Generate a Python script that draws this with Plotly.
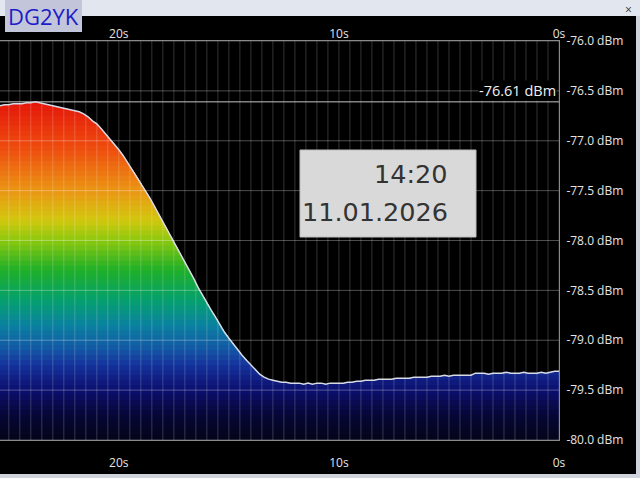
import numpy as np
import plotly.graph_objects as go

# ---------------- data ----------------
level_dbm = [
    -76.65, -76.64, -76.64, -76.63, -76.63, -76.63, -76.62, -76.62, -76.61, -76.62,
    -76.63, -76.64, -76.65, -76.66, -76.67, -76.68, -76.69, -76.70, -76.71, -76.73,
    -76.76, -76.80, -76.83, -76.88, -76.93, -76.98, -77.03, -77.09, -77.15, -77.22,
    -77.28, -77.35, -77.42, -77.50, -77.57, -77.65, -77.73, -77.81, -77.89, -77.97,
    -78.05, -78.13, -78.21, -78.29, -78.38, -78.47, -78.55, -78.62, -78.70, -78.77,
    -78.85, -78.92, -78.98, -79.04, -79.10, -79.15, -79.20, -79.25, -79.30, -79.34,
    -79.37, -79.39, -79.40, -79.41, -79.42, -79.42, -79.43, -79.43, -79.43, -79.44,
    -79.43, -79.44, -79.43, -79.43, -79.44, -79.43, -79.43, -79.43, -79.43, -79.42,
    -79.42, -79.41, -79.41, -79.40, -79.40, -79.40, -79.39, -79.39, -79.39, -79.39,
    -79.38, -79.38, -79.38, -79.38, -79.37, -79.37, -79.37, -79.37, -79.36, -79.36,
    -79.36, -79.35, -79.36, -79.35, -79.35, -79.35, -79.35, -79.35, -79.33, -79.33,
    -79.33, -79.34, -79.33, -79.33, -79.33, -79.32, -79.33, -79.33, -79.33, -79.32,
    -79.33, -79.33, -79.33, -79.32, -79.33, -79.32, -79.31, -79.31,
]
seconds_ago = [round(25.4 - 0.2 * i, 1) for i in range(len(level_dbm))]

marker_level = -76.61
marker_label = "-76.61 dBm"

y_ticks = [-76.0, -76.5, -77.0, -77.5, -78.0, -78.5, -79.0, -79.5, -80.0]
y_tick_labels = ["-76.0 dBm", "-76.5 dBm", "-77.0 dBm", "-77.5 dBm", "-78.0 dBm",
                 "-78.5 dBm", "-79.0 dBm", "-79.5 dBm", "-80.0 dBm"]
x_ticks = [0, 10, 20]
x_tick_labels = ["0s", "10s", "20s"]

timestamp_time = "14:20"
timestamp_date = "11.01.2026"
station = "DG2YK"

# ---------------- styling ----------------
color_stops = [
    (-80.00, (4, 4, 25)),
    (-79.75, (6, 6, 55)),
    (-79.50, (12, 15, 110)),
    (-79.25, (20, 50, 155)),
    (-79.10, (20, 85, 165)),
    (-78.85, (10, 130, 160)),
    (-78.60, (5, 160, 110)),
    (-78.30, (30, 175, 40)),
    (-78.00, (140, 200, 15)),
    (-77.80, (210, 200, 15)),
    (-77.50, (235, 150, 20)),
    (-77.10, (238, 80, 15)),
    (-76.60, (228, 20, 10)),
]


def band_color(level):
    lv = [s[0] for s in color_stops]
    rgb = [int(round(np.interp(level, lv, [s[1][c] for s in color_stops]))) for c in range(3)]
    return f"rgb({rgb[0]},{rgb[1]},{rgb[2]})"


FONT = "Open Sans, Noto Sans, sans-serif"
LABEL_COLOR = "#e4e4e4"
X_RANGE = [25.4, 0]
X_GRID_STEP = 0.5

fig = go.Figure()

values = np.array(level_dbm)
y_min, y_max = -80.0, -76.0
edges = np.round(np.arange(-80.0, -76.49, 0.05), 2)

# gradient fill: opaque polygons from the floor up to min(level, band top),
# drawn from the highest band to the lowest so each lower band covers the rest
xs_poly = list(seconds_ago) + list(seconds_ago[::-1])
for k in range(len(edges) - 1, 0, -1):
    mid = (edges[k - 1] + edges[k]) / 2
    top = np.minimum(values, edges[k])
    ys_poly = list(top) + [y_min] * len(seconds_ago)
    fig.add_trace(go.Scatter(x=xs_poly, y=ys_poly, mode="lines", line=dict(width=0),
                             fill="toself", fillcolor=band_color(mid),
                             hoverinfo="skip", showlegend=False))

# level line
fig.add_trace(go.Scatter(x=seconds_ago, y=level_dbm, mode="lines",
                         line=dict(color="#d6dae6", width=1.5), showlegend=False))

# helper trace for the top axis
fig.add_trace(go.Scatter(x=seconds_ago[:1], y=level_dbm[:1], xaxis="x2", mode="markers",
                         opacity=0, hoverinfo="skip", showlegend=False))

W, H = 640, 478
ML, MR, MT, MB = 0, 81, 41, 38
pw, ph = W - ML - MR, H - MT - MB


def px(x):
    return (x - ML) / pw


def py(y):
    return (H - MB - y) / ph


shapes = []
# grid drawn over the fill (semi-transparent), like the reference display
for gx in np.arange(0, X_RANGE[0] + 1e-9, X_GRID_STEP):
    shapes.append(dict(type="line", xref="x", yref="paper", x0=gx, x1=gx, y0=0, y1=1,
                       line=dict(color="rgba(255,255,255,0.20)", width=1), layer="above"))
for gy in y_ticks:
    shapes.append(dict(type="line", xref="paper", yref="y", x0=0, x1=1, y0=gy, y1=gy,
                       line=dict(color="rgba(255,255,255,0.30)", width=1), layer="above"))

shapes += [
    # window title strip
    dict(type="rect", xref="paper", yref="paper", x0=px(0), x1=px(W), y0=py(16), y1=py(0),
         fillcolor="#e2e7ef", line=dict(width=0), layer="above"),
    # window right / bottom border
    dict(type="rect", xref="paper", yref="paper", x0=px(636), x1=px(W), y0=py(H), y1=py(16),
         fillcolor="#cfd4dc", line=dict(width=0), layer="above"),
    dict(type="rect", xref="paper", yref="paper", x0=px(0), x1=px(W), y0=py(H), y1=py(474),
         fillcolor="#cfd4dc", line=dict(width=0), layer="above"),
    # station box
    dict(type="rect", xref="paper", yref="paper", x0=px(5), x1=px(82), y0=py(32), y1=py(0),
         fillcolor="#c3c6da", line=dict(width=0), layer="above"),
    # marker line
    dict(type="line", xref="paper", yref="y", x0=0, x1=1, y0=marker_level, y1=marker_level,
         line=dict(color="#c4c4c4", width=1), layer="above"),
    # timestamp box
    dict(type="rect", xref="paper", yref="paper", x0=px(300), x1=px(476), y0=py(237), y1=py(150),
         fillcolor="#d9d9d9", line=dict(color="#bdbdbd", width=1), layer="above"),
]

annotations = [
    dict(text=station, xref="paper", yref="paper", x=px(43.5), y=py(16), xanchor="center",
         yanchor="middle", showarrow=False, font=dict(family=FONT, size=22, color="#1c1cc8")),
    dict(text="×", xref="paper", yref="paper", x=px(628), y=py(9), xanchor="center",
         yanchor="middle", showarrow=False, font=dict(family=FONT, size=12, color="#333333")),
    dict(text=marker_label, xref="paper", yref="y", x=px(557), y=marker_level,
         xanchor="right", yanchor="middle", yshift=11, showarrow=False, bgcolor="#000000",
         borderpad=0, font=dict(family=FONT, size=14.5, color="#f0f0f0")),
    dict(text=timestamp_time, xref="paper", yref="paper", x=px(450), y=py(174),
         xanchor="right", yanchor="middle", showarrow=False,
         font=dict(family="DejaVu Sans", size=25.5, color="#333333")),
    dict(text=timestamp_date, xref="paper", yref="paper", x=px(450), y=py(212),
         xanchor="right", yanchor="middle", showarrow=False,
         font=dict(family="DejaVu Sans", size=25.5, color="#333333")),
]

fig.update_layout(
    width=W, height=H,
    margin=dict(l=ML, r=MR, t=MT, b=MB, autoexpand=False),
    paper_bgcolor="#000000", plot_bgcolor="#000000",
    showlegend=False,
    shapes=shapes, annotations=annotations,
    xaxis=dict(range=X_RANGE, tickvals=x_ticks, ticktext=x_tick_labels,
               ticks="outside", ticklen=12, tickcolor="rgba(0,0,0,0)",
               tickfont=dict(family=FONT, size=12, color=LABEL_COLOR),
               showgrid=False,
               showline=True, mirror=True, linecolor="#8a8a8a", linewidth=1,
               zeroline=False, fixedrange=True, automargin=False),
    xaxis2=dict(range=X_RANGE, overlaying="x", side="top", tickvals=x_ticks,
                ticktext=x_tick_labels, ticks="",
                tickfont=dict(family=FONT, size=12, color=LABEL_COLOR),
                showgrid=False, showline=False, zeroline=False, automargin=False),
    yaxis=dict(range=[y_min, y_max], side="right", tickvals=y_ticks, ticktext=y_tick_labels,
               ticks="outside", ticklen=4, tickcolor="rgba(0,0,0,0)",
               tickfont=dict(family=FONT, size=12, color=LABEL_COLOR),
               showgrid=False,
               showline=True, mirror=True, linecolor="#8a8a8a", linewidth=1,
               zeroline=False, automargin=False),
)

fig.write_html("out.html", config={"displayModeBar": False},
               post_script="document.body.style.margin='0px';"
                           "document.body.style.overflow='hidden';")
